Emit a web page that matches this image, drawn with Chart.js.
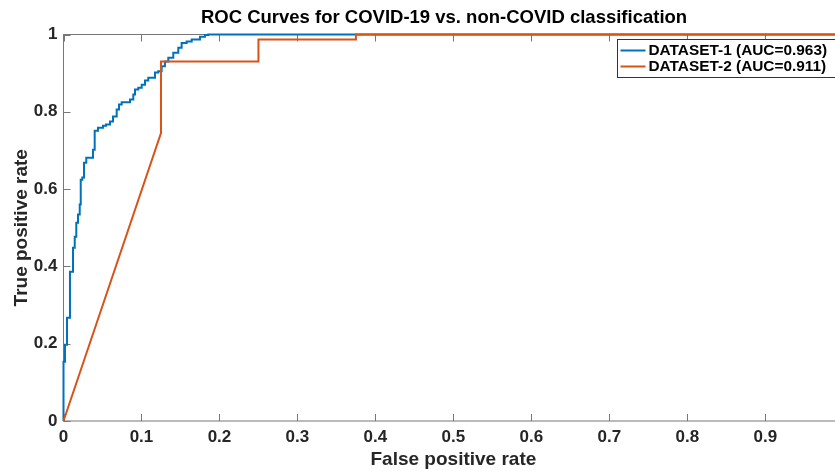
<!DOCTYPE html>
<html>
<head>
<meta charset="utf-8">
<script src="https://cdn.jsdelivr.net/npm/chart.js@4.4.0/dist/chart.umd.min.js"></script>
<style>
  html, body { margin: 0; padding: 0; background: #fff; overflow: hidden; }
  #wrap { width: 835px; height: 471px; overflow: hidden; }
  canvas { display: block; }
</style>
</head>
<body>
<div id="wrap"><canvas id="roc" width="870" height="471"></canvas></div>
<script>
// ---------------- data ----------------
const chartTitle = 'ROC Curves for COVID-19 vs. non-COVID classification'
const seriesNames = ['DATASET-1 (AUC=0.963)', 'DATASET-2 (AUC=0.911)']
const seriesColors = ['#0072BD', '#D95319']

// dataset 1: step curve (tops of each vertical step)
const fpr1 = [0, 0, 0.0019, 0.0045, 0.0083, 0.0083, 0.0122, 0.0144, 0.0164, 0.0186, 0.0208, 0.0221,
  0.0241, 0.0263, 0.0292, 0.0378, 0.040, 0.0442, 0.0506, 0.0545, 0.0596, 0.0635, 0.0682, 0.0712,
  0.0746, 0.0853, 0.0895, 0.0917, 0.0959, 0.1003, 0.1045, 0.1087, 0.1173, 0.1215, 0.1259, 0.1301,
  0.1344, 0.1408, 0.1472, 0.1515, 0.1579, 0.1644, 0.175, 0.1814, 0.1856, 1]
const tpr1 = [0, 0.153, 0.197, 0.267, 0.313, 0.386, 0.448, 0.477, 0.513, 0.534, 0.560, 0.624,
  0.630, 0.668, 0.681, 0.702, 0.751, 0.759, 0.764, 0.767, 0.775, 0.788, 0.806, 0.819,
  0.825, 0.832, 0.845, 0.858, 0.862, 0.870, 0.881, 0.888, 0.902, 0.905, 0.918, 0.930,
  0.940, 0.953, 0.966, 0.978, 0.982, 0.987, 0.994, 0.999, 1, 1]

// dataset 2: corners of the curve
const fpr2 = [0, 0.125, 0.125, 0.25, 0.25, 0.375, 0.375, 1]
const tpr2 = [0, 0.745, 0.93, 0.93, 0.987, 0.987, 1, 1]

const xTicks = [0, 0.1, 0.2, 0.3, 0.4, 0.5, 0.6, 0.7, 0.8, 0.9, 1]
const xTickLabels = ['0', '0.1', '0.2', '0.3', '0.4', '0.5', '0.6', '0.7', '0.8', '0.9', '1']
const yTicks = [0, 0.2, 0.4, 0.6, 0.8, 1]
const yTickLabels = ['0', '0.2', '0.4', '0.6', '0.8', '1']

//-------------------------- helpers ---------------------------
const fam = '"Liberation Sans", Arial, Helvetica, sans-serif'
const axisGray = '#777'
const tickLen = 7

const toPoints = (xs, ys) => xs.map((x, i) => ({ x: x, y: ys[i] }))

//-------------------------- plugins ---------------------------
const axesBox = {
  id: 'axesBox',
  beforeDatasetsDraw(chart) {
    const { ctx, chartArea: a, scales } = chart
    ctx.save()
    ctx.strokeStyle = axisGray
    ctx.lineWidth = 1
    ctx.strokeRect(a.left, a.top, a.right - a.left, a.bottom - a.top)
    ctx.beginPath()
    scales.x.ticks.forEach(t => {
      const px = Math.round(scales.x.getPixelForValue(t.value)) + 0.5
      ctx.moveTo(px, a.bottom); ctx.lineTo(px, a.bottom - tickLen)
      ctx.moveTo(px, a.top); ctx.lineTo(px, a.top + tickLen)
    })
    scales.y.ticks.forEach(t => {
      const py = Math.round(scales.y.getPixelForValue(t.value)) + 0.5
      ctx.moveTo(a.left, py); ctx.lineTo(a.left + tickLen, py)
      ctx.moveTo(a.right, py); ctx.lineTo(a.right - tickLen, py)
    })
    ctx.stroke()
    ctx.restore()
  }
}

const boxLegend = {
  id: 'boxLegend',
  afterDatasetsDraw(chart) {
    const { ctx } = chart
    const left = 617.5, top = 39.5, rowH = 16, width = 240
    ctx.save()
    ctx.fillStyle = '#fff'
    ctx.strokeStyle = '#333'
    ctx.lineWidth = 1
    ctx.fillRect(left, top, width, rowH * 2 + 6)
    ctx.strokeRect(left, top, width, rowH * 2 + 6)
    ctx.font = 'bold 15.4px ' + fam
    ctx.textBaseline = 'middle'
    seriesNames.forEach((name, i) => {
      const cy = top + 11 + i * rowH
      ctx.strokeStyle = seriesColors[i]
      ctx.lineWidth = 2
      ctx.beginPath()
      ctx.moveTo(left + 3, cy); ctx.lineTo(left + 28, cy)
      ctx.stroke()
      ctx.fillStyle = '#000'
      ctx.fillText(name, left + 31, cy)
    })
    ctx.restore()
  }
}

const topTitle = {
  id: 'topTitle',
  afterDraw(chart) {
    const { ctx } = chart
    ctx.save()
    ctx.font = 'bold 18.5px ' + fam
    ctx.fillStyle = '#000'
    ctx.textAlign = 'center'
    ctx.textBaseline = 'middle'
    ctx.fillText(chartTitle, 444, 18)
    ctx.restore()
  }
}

//-------------------------- chart ---------------------------
const tickFont = { family: fam, size: 17, weight: 'bold' }
const labelFont = { family: fam, size: 19, weight: 'bold' }

new Chart(document.getElementById('roc'), {
  type: 'line',
  data: {
    datasets: [
      {
        label: seriesNames[0],
        data: toPoints(fpr1, tpr1),
        borderColor: seriesColors[0],
        borderWidth: 2,
        pointRadius: 0,
        stepped: 'before',
        clip: false,
        order: 1
      },
      {
        label: seriesNames[1],
        data: toPoints(fpr2, tpr2),
        borderColor: seriesColors[1],
        borderWidth: 2,
        pointRadius: 0,
        tension: 0,
        clip: false,
        order: 0
      }
    ]
  },
  options: {
    responsive: false,
    animation: false,
    layout: { padding: { top: 34.5, right: 26.7, left: 0, bottom: 0 } },
    plugins: {
      legend: { display: false },
      title: { display: false },
      tooltip: { enabled: false }
    },
    scales: {
      x: {
        type: 'linear',
        min: 0,
        max: 1,
        grid: { display: false, drawTicks: false },
        border: { display: false },
        afterBuildTicks: s => { s.ticks = xTicks.map(v => ({ value: v })) },
        afterFit: s => { s.height = 50 },
        ticks: {
          autoSkip: false,
          maxRotation: 0,
          padding: 6,
          color: '#262626',
          font: tickFont,
          callback: (v, i) => xTickLabels[i]
        },
        title: {
          display: true,
          text: 'False positive rate',
          color: '#262626',
          font: labelFont,
          padding: { top: 0, bottom: 0 }
        }
      },
      y: {
        type: 'linear',
        min: 0,
        max: 1,
        grid: { display: false, drawTicks: false },
        border: { display: false },
        afterBuildTicks: s => { s.ticks = yTicks.map(v => ({ value: v })) },
        afterFit: s => { s.width = 63.5 },
        ticks: {
          autoSkip: false,
          padding: 6,
          color: '#262626',
          font: tickFont,
          callback: (v, i) => yTickLabels[i]
        },
        title: {
          display: true,
          text: 'True positive rate',
          color: '#262626',
          font: labelFont,
          padding: { top: 10.5, bottom: 0 }
        }
      }
    }
  },
  plugins: [axesBox, boxLegend, topTitle]
})
</script>
</body>
</html>
